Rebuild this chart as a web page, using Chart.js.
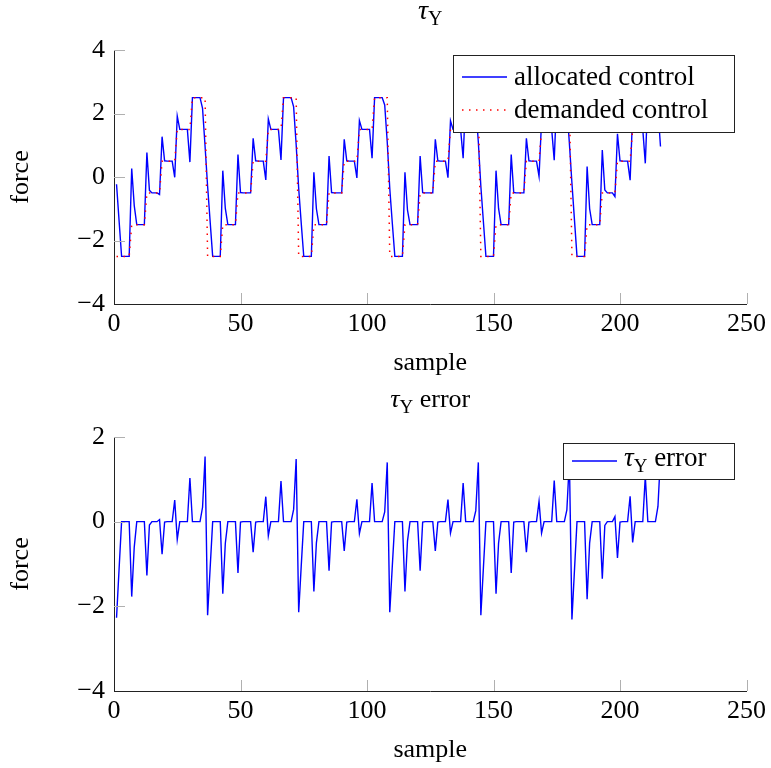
<!DOCTYPE html>
<html>
<head>
<meta charset="utf-8">
<script src="https://cdn.jsdelivr.net/npm/chart.js@4.4.1/dist/chart.umd.min.js"></script>
<style>
  html, body { margin: 0; padding: 0; background: #fff; }
  canvas { display: block; }
</style>
</head>
<body>
<canvas id="topChart" width="771" height="384"></canvas>
<canvas id="bottomChart" width="771" height="384"></canvas>
<script>
// sample index 1..216
const samples = Array.from({ length: 216 }, (_, i) => i + 1);

const xTicks = [0, 50, 100, 150, 200, 250];
const forceTicks = [-4, -2, 0, 2, 4];
const errorTicks = [-4, -2, 0, 2];

const allocatedControl = [
  -0.23,-1.37,-2.5,-2.5,-2.5,-2.5, 0.27,-0.9,-1.5,-1.5,-1.5,-1.5, 0.77,-0.42,-0.5,-0.5,-0.5,-0.55, 1.27,0.51,0.5,0.5,0.5,-0.01, 1.92,1.5,1.5,1.5,1.5,0.47, 2.5,2.5,2.5,2.5,2.16,0.96,
  -0.29,-1.4,-2.5,-2.5,-2.5,-2.5, 0.2,-0.99,-1.5,-1.5,-1.5,-1.5, 0.71,-0.49,-0.5,-0.5,-0.5,-0.5, 1.22,0.51,0.5,0.5,0.5,-0.09, 1.83,1.5,1.5,1.5,1.5,0.54, 2.5,2.5,2.5,2.5,2.21,1.02,
  -0.36,-1.45,-2.5,-2.5,-2.5,-2.5, 0.15,-1.0,-1.5,-1.5,-1.5,-1.5, 0.66,-0.49,-0.5,-0.5,-0.5,-0.5, 1.19,0.51,0.5,0.5,0.5,-0.03, 1.78,1.5,1.5,1.5,1.5,0.59, 2.5,2.5,2.5,2.5,2.27,1.1,
  -0.36,-1.45,-2.5,-2.5,-2.5,-2.5, 0.15,-1.04,-1.5,-1.5,-1.5,-1.5, 0.66,-0.49,-0.5,-0.5,-0.5,-0.5, 1.19,0.51,0.5,0.5,0.5,-0.02, 1.77,1.5,1.5,1.5,1.5,0.59, 2.5,2.5,2.5,2.5,2.24,1.1,
  -0.29,-1.4,-2.5,-2.5,-2.5,-2.5, 0.2,-0.99,-1.5,-1.5,-1.5,-1.5, 0.71,-0.49,-0.5,-0.5,-0.5,-0.5, 1.22,0.51,0.5,0.5,0.5,0.02, 1.77,1.5,1.5,1.5,1.5,0.53, 2.5,2.5,2.5,2.5,2.22,1.05,
  -0.19,-1.35,-2.5,-2.5,-2.5,-2.5, 0.33,-1.0,-1.5,-1.5,-1.5,-1.5, 0.85,-0.41,-0.5,-0.5,-0.5,-0.62, 1.36,0.51,0.5,0.5,0.5,-0.1, 1.99,1.5,1.5,1.5,1.5,0.43, 2.5,2.5,2.5,2.5,2.14,0.96
];

const demandedControl = [
  -2.5,-2.5,-2.5,-2.5,-2.5,-2.5, -1.5,-1.5,-1.5,-1.5,-1.5,-1.5, -0.5,-0.5,-0.5,-0.5,-0.5,-0.5, 0.5,0.5,0.5,0.5,0.5,0.5, 1.5,1.5,1.5,1.5,1.5,1.5, 2.5,2.5,2.5,2.5,2.5,2.5,
  -2.5,-2.5,-2.5,-2.5,-2.5,-2.5, -1.5,-1.5,-1.5,-1.5,-1.5,-1.5, -0.5,-0.5,-0.5,-0.5,-0.5,-0.5, 0.5,0.5,0.5,0.5,0.5,0.5, 1.5,1.5,1.5,1.5,1.5,1.5, 2.5,2.5,2.5,2.5,2.5,2.5,
  -2.5,-2.5,-2.5,-2.5,-2.5,-2.5, -1.5,-1.5,-1.5,-1.5,-1.5,-1.5, -0.5,-0.5,-0.5,-0.5,-0.5,-0.5, 0.5,0.5,0.5,0.5,0.5,0.5, 1.5,1.5,1.5,1.5,1.5,1.5, 2.5,2.5,2.5,2.5,2.5,2.5,
  -2.5,-2.5,-2.5,-2.5,-2.5,-2.5, -1.5,-1.5,-1.5,-1.5,-1.5,-1.5, -0.5,-0.5,-0.5,-0.5,-0.5,-0.5, 0.5,0.5,0.5,0.5,0.5,0.5, 1.5,1.5,1.5,1.5,1.5,1.5, 2.5,2.5,2.5,2.5,2.5,2.5,
  -2.5,-2.5,-2.5,-2.5,-2.5,-2.5, -1.5,-1.5,-1.5,-1.5,-1.5,-1.5, -0.5,-0.5,-0.5,-0.5,-0.5,-0.5, 0.5,0.5,0.5,0.5,0.5,0.5, 1.5,1.5,1.5,1.5,1.5,1.5, 2.5,2.5,2.5,2.5,2.5,2.5,
  -2.5,-2.5,-2.5,-2.5,-2.5,-2.5, -1.5,-1.5,-1.5,-1.5,-1.5,-1.5, -0.5,-0.5,-0.5,-0.5,-0.5,-0.5, 0.5,0.5,0.5,0.5,0.5,0.5, 1.5,1.5,1.5,1.5,1.5,1.5, 2.5,2.5,2.5,2.5,2.5,2.5
];

const tauError = [
  -2.27,-1.13,0,0,0,0, -1.77,-0.6,0,0,0,0, -1.27,-0.08,0,0,0,0.05, -0.77,-0.01,0,0,0,0.51, -0.42,0,0,0,0,1.03, 0,0,0,0,0.34,1.54,
  -2.21,-1.1,0,0,0,0, -1.7,-0.51,0,0,0,0, -1.21,-0.01,0,0,0,0, -0.72,-0.01,0,0,0,0.59, -0.33,0,0,0,0,0.96, 0,0,0,0,0.29,1.48,
  -2.14,-1.05,0,0,0,0, -1.65,-0.5,0,0,0,0, -1.16,-0.01,0,0,0,0, -0.69,-0.01,0,0,0,0.53, -0.28,0,0,0,0,0.91, 0,0,0,0,0.23,1.4,
  -2.14,-1.05,0,0,0,0, -1.65,-0.46,0,0,0,0, -1.16,-0.01,0,0,0,0, -0.69,-0.01,0,0,0,0.52, -0.27,0,0,0,0,0.91, 0,0,0,0,0.26,1.4,
  -2.21,-1.1,0,0,0,0, -1.7,-0.51,0,0,0,0, -1.21,-0.01,0,0,0,0, -0.72,-0.01,0,0,0,0.48, -0.27,0,0,0,0,0.97, 0,0,0,0,0.28,1.45,
  -2.31,-1.15,0,0,0,0, -1.83,-0.5,0,0,0,0, -1.35,-0.09,0,0,0,0.12, -0.86,-0.01,0,0,0,0.6, -0.49,0,0,0,0,1.07, 0,0,0,0,0.36,1.54
];

const FONT = "'Liberation Serif', 'Times New Roman', serif";
Chart.defaults.font.family = FONT;
Chart.defaults.font.size = 26;
Chart.defaults.color = '#000';

const BLUE = 'rgb(0, 0, 255)';
const RED = 'rgb(255, 0, 0)';

const toPoints = (ys) => samples.map((s, i) => ({ x: s, y: ys[i] }));
const minusFmt = (v) => (v < 0 ? '\u2212' + Math.abs(v) : String(v));

// draws a row of text pieces (different fonts / baseline shifts)
function drawRuns(ctx, runs, x, baseline, align) {
  let total = 0;
  runs.forEach(r => { ctx.font = r.font; r.w = ctx.measureText(r.text).width; total += r.w; });
  let cx = align === 'center' ? x - total / 2 : x;
  ctx.textAlign = 'left';
  ctx.textBaseline = 'alphabetic';
  ctx.fillStyle = '#000';
  runs.forEach(r => {
    ctx.font = r.font;
    ctx.fillText(r.text, cx, baseline + (r.dy || 0));
    cx += r.w;
  });
}

const tauRuns = (rest, size) => {
  const runs = [
    { text: '\u03C4', font: 'italic ' + size + 'px ' + FONT },
    { text: 'Y', font: Math.round(size * 0.72) + 'px ' + FONT, dy: 6 }
  ];
  if (rest) runs.push({ text: rest, font: size + 'px ' + FONT });
  return runs;
};

const pgfDecor = {
  id: 'pgfDecor',
  afterDatasetsDraw(chart, args, opts) {
    const ctx = chart.ctx;
    const xs = chart.scales.x, ys = chart.scales.y;
    const area = chart.chartArea;
    ctx.save();

    // tick marks pointing into the plot (skip the ones lying on an axis line)
    ctx.strokeStyle = '#b0b0b0';
    ctx.lineWidth = 1;
    ctx.setLineDash([]);
    ctx.beginPath();
    xs.ticks.forEach(t => {
      const px = Math.round(xs.getPixelForValue(t.value)) + 0.5;
      if (px - area.left < 2) return;
      ctx.moveTo(px, area.bottom);
      ctx.lineTo(px, area.bottom - 11);
    });
    ys.ticks.forEach(t => {
      const py = Math.round(ys.getPixelForValue(t.value)) + 0.5;
      if (area.bottom - py < 2) return;
      ctx.moveTo(area.left, py);
      ctx.lineTo(area.left + 11, py);
    });
    ctx.stroke();

    // title
    drawRuns(ctx, opts.title, (area.left + area.right) / 2, opts.titleBaseline, 'center');

    // legend
    const b = opts.legendBox;
    ctx.fillStyle = '#fff';
    ctx.fillRect(b.x, b.y, b.w, b.h);
    ctx.strokeStyle = '#222';
    ctx.lineWidth = 1;
    ctx.strokeRect(b.x + 0.5, b.y + 0.5, b.w, b.h);
    opts.legendItems.forEach(item => {
      ctx.strokeStyle = item.color;
      ctx.lineWidth = item.width;
      ctx.setLineDash(item.dash || []);
      ctx.beginPath();
      ctx.moveTo(b.x + 9, item.y);
      ctx.lineTo(b.x + 54, item.y);
      ctx.stroke();
      ctx.setLineDash([]);
      drawRuns(ctx, item.runs, b.x + 61, item.y + item.base, 'left');
    });
    ctx.restore();
  }
};

function makeOptions(cfg) {
  return {
    responsive: false,
    animation: false,
    devicePixelRatio: 1,
    layout: { padding: { top: cfg.padTop, right: 24, left: 0, bottom: 0 } },
    elements: { point: { radius: 0 }, line: { tension: 0 } },
    plugins: {
      legend: { display: false },
      tooltip: { enabled: false },
      pgfDecor: cfg.decor
    },
    scales: {
      x: {
        type: 'linear',
        min: 0,
        max: 250,
        afterFit: (s) => { s.height = cfg.xHeight; },
        afterBuildTicks: (s) => { s.ticks = xTicks.map(v => ({ value: v })); },
        ticks: { padding: 5, maxRotation: 0, autoSkip: false },
        grid: { display: false, drawTicks: false },
        border: { display: true, color: '#222', width: 1 },
        title: { display: true, text: 'sample', padding: { top: 0, bottom: cfg.xTitlePad } }
      },
      y: {
        type: 'linear',
        min: cfg.yTicks[0],
        max: cfg.yTicks[cfg.yTicks.length - 1],
        afterFit: (s) => { s.width = 114; },
        afterBuildTicks: (s) => { s.ticks = cfg.yTicks.map(v => ({ value: v })); },
        ticks: { padding: 9, callback: minusFmt },
        grid: { display: false, drawTicks: false },
        border: { display: true, color: '#222', width: 1 },
        title: { display: true, text: 'force', padding: { top: 6, bottom: 0 } }
      }
    }
  };
}

new Chart(document.getElementById('topChart'), {
  type: 'line',
  data: {
    datasets: [
      {
        label: 'demanded control',
        data: toPoints(demandedControl),
        borderColor: RED,
        borderWidth: 1.5,
        borderDash: [1.5, 5.5],
        fill: false,
        order: 0
      },
      {
        label: 'allocated control',
        data: toPoints(allocatedControl),
        borderColor: BLUE,
        borderWidth: 1.4,
        fill: false,
        order: 1
      }
    ]
  },
  options: makeOptions({
    padTop: 50,
    xHeight: 80,
    xTitlePad: 5,
    yTicks: forceTicks,
    decor: {
      title: tauRuns('', 28),
      titleBaseline: 19,
      legendBox: { x: 453, y: 55, w: 281, h: 77 },
      legendItems: [
        { color: BLUE, width: 1.4, y: 77, base: 8, runs: [{ text: 'allocated control', font: '27px ' + FONT }] },
        { color: RED, width: 1.5, dash: [1.5, 5.5], y: 110, base: 8, runs: [{ text: 'demanded control', font: '27px ' + FONT }] }
      ]
    }
  }),
  plugins: [pgfDecor]
});

new Chart(document.getElementById('bottomChart'), {
  type: 'line',
  data: {
    datasets: [
      {
        label: '\u03C4Y error',
        data: toPoints(tauError),
        borderColor: BLUE,
        borderWidth: 1.4,
        fill: false
      }
    ]
  },
  options: makeOptions({
    padTop: 53,
    xHeight: 77,
    xTitlePad: 2,
    yTicks: errorTicks,
    decor: {
      title: tauRuns(' error', 26),
      titleBaseline: 23,
      legendBox: { x: 563, y: 59, w: 171, h: 36 },
      legendItems: [
        { color: BLUE, width: 1.4, y: 77, base: 5, runs: tauRuns(' error', 27) }
      ]
    }
  }),
  plugins: [pgfDecor]
});
</script>
</body>
</html>
